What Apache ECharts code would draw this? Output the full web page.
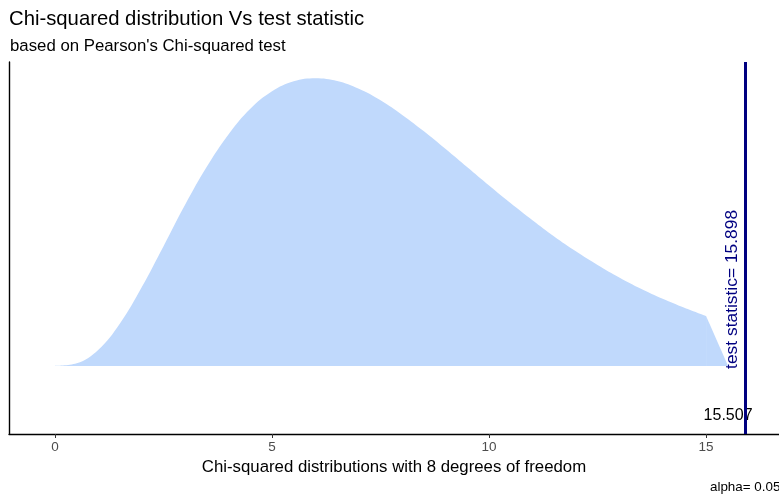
<!DOCTYPE html>
<html>
<head>
<meta charset="utf-8">
<script src="https://cdn.jsdelivr.net/npm/echarts@6/dist/echarts.min.js"></script>
<style>
  html, body { margin: 0; padding: 0; background: #fff; }
  #main { width: 779px; height: 495px; }
</style>
</head>
<body>
<div id="main"></div>
<script>
// chi-squared density, 8 df, every 0.5
var xVals = [0, 0.5, 1, 1.5, 2, 2.5, 3, 3.5, 4, 4.5, 5, 5.5, 6, 6.5, 7, 7.5,
  8, 8.5, 9, 9.5, 10, 10.5, 11, 11.5, 12, 12.5, 13, 13.5, 14, 14.5, 15];
var densVals = [0, 0.0010, 0.0063, 0.0166, 0.0307, 0.0466, 0.0628, 0.0776, 0.0902, 0.1001,
  0.1069, 0.1108, 0.1120, 0.1109, 0.1079, 0.1034, 0.0977, 0.0913, 0.0844, 0.0773,
  0.0702, 0.0633, 0.0567, 0.0504, 0.0446, 0.0393, 0.0344, 0.0300, 0.0261, 0.0226, 0.0194];
var xTicks = [0, 5, 10, 15];
var critical = 15.507;
var testStat = 15.898;
var alpha = 0.05;

var curveData = xVals.map(function (x, i) { return [x, densVals[i]]; });
// last bit of the polygon drops straight down to the critical value
var tailData = [[xVals[xVals.length - 1], densVals[densVals.length - 1]], [critical, 0]];

var chart = echarts.init(document.getElementById('main'));
var FONT = 'Liberation Sans, Arial, sans-serif';
var FILL = '#c0d9fc';

var option = {
  animation: false,
  backgroundColor: '#fff',
  title: [
    { text: 'Chi-squared distribution Vs test statistic', left: 9, top: 9, padding: 0,
      textStyle: { fontSize: 20.3, fontWeight: 'normal', color: '#000', fontFamily: FONT } },
    { text: "based on Pearson's Chi-squared test", left: 10, top: 38, padding: 0,
      textStyle: { fontSize: 16.8, fontWeight: 'normal', color: '#000', fontFamily: FONT } }
  ],
  grid: { left: 9, right: 0, top: 62, bottom: 61 },
  xAxis: {
    type: 'value', min: -1.06, max: 16.68,
    name: 'Chi-squared distributions with 8 degrees of freedom',
    nameLocation: 'middle', nameGap: 24,
    nameTextStyle: { fontSize: 16.8, color: '#000', fontFamily: FONT },
    axisLine: { onZero: false, lineStyle: { color: '#000', width: 1.4 } },
    axisTick: { show: true, length: 4, customValues: xTicks, lineStyle: { color: '#333' } },
    axisLabel: { customValues: xTicks, fontSize: 13.5, color: '#4d4d4d', margin: 6, fontFamily: FONT },
    splitLine: { show: false }
  },
  yAxis: {
    type: 'value', min: -0.0265, max: 0.1183,
    axisLine: { show: true, onZero: false, lineStyle: { color: '#000', width: 1.4 } },
    axisTick: { show: false }, axisLabel: { show: false }, splitLine: { show: false }
  },
  series: [
    {
      type: 'line',
      data: curveData,
      smooth: 0.4,
      symbol: 'none',
      lineStyle: { width: 0 },
      areaStyle: { color: FILL, opacity: 1, origin: 0 },
      markLine: {
        silent: true, symbol: 'none',
        label: { show: false },
        lineStyle: { color: '#000080', width: 3, type: 'solid' },
        data: [{ xAxis: testStat }]
      }
    },
    {
      type: 'line',
      data: tailData,
      symbol: 'none',
      lineStyle: { width: 0 },
      areaStyle: { color: FILL, opacity: 1, origin: 0 }
    }
  ]
};
chart.setOption(option);

var pCrit = chart.convertToPixel({ gridIndex: 0 }, [critical, -0.0195]);
var pStat = chart.convertToPixel({ gridIndex: 0 }, [testStat, 0]);
chart.setOption({
  graphic: [
    { type: 'text', x: pCrit[0], y: pCrit[1],
      style: { text: critical.toFixed(3), font: '16px ' + FONT, fill: '#000',
        align: 'center', verticalAlign: 'middle' } },
    { type: 'text', x: pStat[0] - 4, y: pStat[1] + 3, rotation: Math.PI / 2,
      style: { text: 'test statistic= ' + testStat.toFixed(3), font: '17.4px ' + FONT, fill: '#000080',
        align: 'left', verticalAlign: 'bottom' } },
    { type: 'text', left: 710, top: 481,
      style: { text: 'alpha= ' + alpha.toFixed(2), font: '13.4px ' + FONT, fill: '#000' } }
  ]
});
</script>
</body>
</html>
